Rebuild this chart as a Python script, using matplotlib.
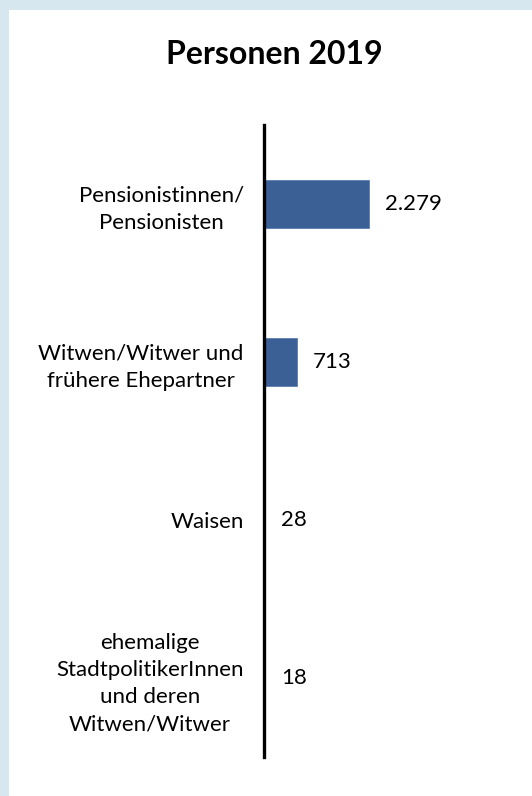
import numpy as np
import matplotlib.pyplot as plt
from matplotlib.patches import Rectangle

# Personen 2019 nach Gruppe
kategorien = ['Pensionistinnen/\nPensionisten',
              'Witwen/Witwer und\nfrühere Ehepartner',
              'Waisen',
              'ehemalige\nStadtpolitikerInnen\nund deren\nWitwen/Witwer']
werte = [2279, 713, 28, 18]
titel = 'Personen 2019'

def de_format(v):
    # Tausenderpunkt wie im Bericht
    return '{:,}'.format(v).replace(',', '.')

plt.rcParams['font.family'] = ['Lato', 'DejaVu Sans']

fig = plt.figure(figsize=(5.32, 7.96), dpi=100)
fig.patch.set_facecolor('#d7e7ef')
# weisse Flaeche innerhalb des Rahmens
fig.patches.append(Rectangle((9/532, 0), 1, 1-10/796, transform=fig.transFigure,
                             facecolor='white', edgecolor='none', zorder=-5))

ax = fig.add_axes([264/532, 1-757/796, (522-264)/532, 632/796])
ax.set_facecolor('none')

y = np.arange(len(werte))
ax.barh(y, werte, height=0.30, color='#3b6096', edgecolor='#5b7fb0', linewidth=0.6)
ax.set_ylim(len(werte)-0.5, -0.5)
ax.set_xlim(0, 5600)

for yi, v in zip(y, werte):
    ax.annotate(de_format(v), (v, yi), xytext=(11.5, 0), textcoords='offset points',
                ha='left', va='center', fontsize=16, color='black')

for s in ['top', 'right', 'bottom']:
    ax.spines[s].set_visible(False)
ax.spines['left'].set_linewidth(2.4)
ax.spines['left'].set_color('black')

ax.set_xticks([])
ax.set_yticks(y)
ax.set_yticklabels(kategorien, fontsize=16)
ax.tick_params(axis='y', length=0, pad=14.5)
for lbl in ax.get_yticklabels():
    lbl.set_multialignment('center')
    lbl.set_linespacing(1.45)

fig.text(274/532, 1-55/796, titel, ha='center', va='center',
         fontsize=23, fontweight='bold')

fig.savefig('out.png', dpi=100, facecolor=fig.get_facecolor())
